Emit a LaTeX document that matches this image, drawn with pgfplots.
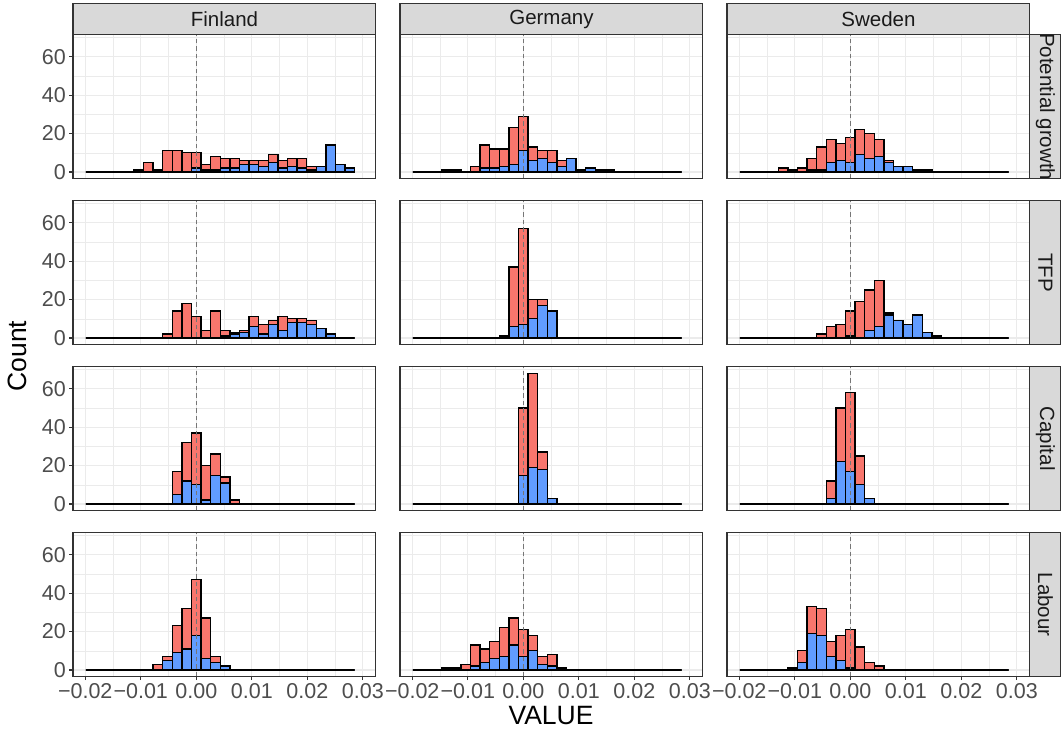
\documentclass[border=0pt]{standalone}
\usepackage{fontspec}
\setmainfont{Liberation Sans}
\usepackage{pgfplots}
\usepackage{pgfplotstable}
\pgfplotsset{compat=1.18}
\definecolor{redc}{HTML}{F8766D}
\definecolor{bluec}{HTML}{619CFF}
\definecolor{grey92}{HTML}{EBEBEB}
\definecolor{grey20}{HTML}{333333}
\definecolor{grey30}{HTML}{4D4D4D}
\definecolor{grey85}{HTML}{D9D9D9}
\definecolor{grey10}{HTML}{1A1A1A}
\definecolor{grey50}{HTML}{767676}

% columns: bin centre, then blue (b) and red (r) counts for Finland, Germany, Sweden
\pgfplotstableread{
x FIb FIr DEb DEr SEb SEr
-0.019008 0 0 0 0 0 0
-0.017280 0 0 0 0 0 0
-0.015552 0 0 0 0 0 0
-0.013824 0 0 0 1 0 0
-0.012096 0 0 0 1 0 2
-0.010368 0 1 0 0 0 1
-0.008640 0 5 0 3 0 2
-0.006912 0 1 2 12 1 6
-0.005184 0 11 2 10 1 12
-0.003456 0 11 3 9 5 12
-0.001728 0 10 4 19 6 9
0.000000 2 8 11 18 5 13
0.001728 1 3 6 7 9 13
0.003456 1 7 7 4 7 13
0.005184 2 5 5 6 8 9
0.006912 2 5 3 3 5 1
0.008640 4 2 7 0 3 0
0.010368 4 2 1 0 3 0
0.012096 3 3 2 0 1 0
0.013824 5 4 1 0 1 0
0.015552 2 4 1 0 0 0
0.017280 3 4 0 0 0 0
0.019008 2 5 0 0 0 0
0.020736 1 2 0 0 0 0
0.022464 3 0 0 0 0 0
0.024192 14 0 0 0 0 0
0.025920 4 0 0 0 0 0
0.027648 2 0 0 0 0 0
}\tblPG

\pgfplotstableread{
x FIb FIr DEb DEr SEb SEr
-0.019008 0 0 0 0 0 0
-0.017280 0 0 0 0 0 0
-0.015552 0 0 0 0 0 0
-0.013824 0 0 0 0 0 0
-0.012096 0 0 0 0 0 0
-0.010368 0 0 0 0 0 0
-0.008640 0 0 0 0 0 0
-0.006912 0 0 0 0 0 0
-0.005184 0 2 0 0 0 2
-0.003456 0 14 1 0 0 6
-0.001728 0 18 6 31 0 7
0.000000 0 11 7 50 1 13
0.001728 0 4 10 10 0 19
0.003456 0 14 17 3 4 21
0.005184 1 3 14 0 6 24
0.006912 2 1 0 0 12 1
0.008640 3 1 0 0 9 0
0.010368 6 5 0 0 7 0
0.012096 2 5 0 0 12 0
0.013824 7 2 0 0 3 0
0.015552 4 7 0 0 1 0
0.017280 8 2 0 0 0 0
0.019008 8 2 0 0 0 0
0.020736 7 2 0 0 0 0
0.022464 5 0 0 0 0 0
0.024192 2 0 0 0 0 0
0.025920 0 0 0 0 0 0
0.027648 0 0 0 0 0 0
}\tblTFP

\pgfplotstableread{
x FIb FIr DEb DEr SEb SEr
-0.019008 0 0 0 0 0 0
-0.017280 0 0 0 0 0 0
-0.015552 0 0 0 0 0 0
-0.013824 0 0 0 0 0 0
-0.012096 0 0 0 0 0 0
-0.010368 0 0 0 0 0 0
-0.008640 0 0 0 0 0 0
-0.006912 0 0 0 0 0 0
-0.005184 0 0 0 0 0 0
-0.003456 5 12 0 0 3 9
-0.001728 12 20 0 0 22 28
0.000000 10 27 15 35 17 41
0.001728 2 18 19 49 10 15
0.003456 15 11 18 9 3 0
0.005184 11 3 3 0 0 0
0.006912 0 2 0 0 0 0
0.008640 0 0 0 0 0 0
0.010368 0 0 0 0 0 0
0.012096 0 0 0 0 0 0
0.013824 0 0 0 0 0 0
0.015552 0 0 0 0 0 0
0.017280 0 0 0 0 0 0
0.019008 0 0 0 0 0 0
0.020736 0 0 0 0 0 0
0.022464 0 0 0 0 0 0
0.024192 0 0 0 0 0 0
0.025920 0 0 0 0 0 0
0.027648 0 0 0 0 0 0
}\tblCap

\pgfplotstableread{
x FIb FIr DEb DEr SEb SEr
-0.019008 0 0 0 0 0 0
-0.017280 0 0 0 0 0 0
-0.015552 0 0 0 0 0 0
-0.013824 0 0 0 1 0 0
-0.012096 0 0 0 1 0 0
-0.010368 0 0 0 3 1 0
-0.008640 0 0 2 11 4 6
-0.006912 0 3 4 7 19 14
-0.005184 5 2 6 9 18 14
-0.003456 9 14 7 15 7 8
-0.001728 11 21 13 14 5 13
0.000000 18 29 7 14 1 20
0.001728 6 21 10 8 0 12
0.003456 4 3 3 4 0 4
0.005184 2 0 2 6 0 2
0.006912 0 0 1 0 0 0
0.008640 0 0 0 0 0 0
0.010368 0 0 0 0 0 0
0.012096 0 0 0 0 0 0
0.013824 0 0 0 0 0 0
0.015552 0 0 0 0 0 0
0.017280 0 0 0 0 0 0
0.019008 0 0 0 0 0 0
0.020736 0 0 0 0 0 0
0.022464 0 0 0 0 0 0
0.024192 0 0 0 0 0 0
0.025920 0 0 0 0 0 0
0.027648 0 0 0 0 0 0
}\tblLab

\pgfplotsset{
  panel/.style={
    scale only axis, anchor=south west,
    width=302.9bp, height=143.6bp,
    xmin=-0.0222, xmax=0.03234, ymin=-3.4, ymax=71.4,
    scaled x ticks=false, scaled y ticks=false,
    xtick={-0.02,-0.01,0,0.01,0.02,0.03},
    minor xtick={-0.015,-0.005,0.005,0.015,0.025},
    ytick={0,20,40,60}, minor ytick={10,30,50,70},
    grid=both,
    major grid style={draw=grey92, line width=1.07bp},
    minor grid style={draw=grey92, line width=0.53bp},
    axis line style={draw=grey20, line width=1.07bp},
    tick align=outside, xtick pos=bottom, ytick pos=left,
    major tick length=3.7bp, minor tick length=0pt,
    tick style={draw=grey20, line width=1.07bp},
    xmajorticks=false, ymajorticks=false,
    xticklabels={}, yticklabels={},
    tick label style={font=\fontsize{21.5bp}{21.5bp}\selectfont, text=grey30},
  },
  leftcol/.style={ymajorticks=true, yticklabels={0,20,40,60}},
  bottomrow/.style={xmajorticks=true, xticklabels={−0.02,−0.01,0.00,0.01,0.02,0.03}},
}

\newcommand{\panel}[5]{%
\begin{axis}[panel, at={(#1bp,#2bp)}, #5]
\addplot[ybar, bar width=0.001728, bar shift=0pt, fill=redc, draw=black, line width=1.3bp]
  table[x=x, y expr=\thisrow{#4b}+\thisrow{#4r}] {#3};
\addplot[ybar, bar width=0.001728, bar shift=0pt, fill=bluec, draw=black, line width=1.3bp]
  table[x=x, y=#4b] {#3};
\addplot[grey50, line width=1.5bp, dash pattern=on 4.5bp off 3bp] coordinates {(0,-3.4) (0,71.4)};
\end{axis}}

\newcommand{\topstrip}[2]{%
\draw[fill=grey85, draw=grey20, line width=1.07bp] (#1bp,703.1bp) rectangle ++(302.9bp,31bp);
\node[text=grey10, font=\fontsize{20.5bp}{20.5bp}\selectfont] at ([xshift=151.45bp]#1bp,718.6bp) {#2};}

\newcommand{\sidestrip}[2]{%
\draw[fill=grey85, draw=grey20, line width=1.07bp] (1029.9bp,#1bp) rectangle ++(31bp,143.6bp);
\begin{scope}
\clip (1029.9bp,#1bp) rectangle ++(31bp,143.6bp);
\node[rotate=-90, text=grey10, font=\fontsize{20.5bp}{20.5bp}\selectfont] at ([yshift=71.8bp]1045.4bp,#1bp) {#2};
\end{scope}}

\begin{document}
\begin{tikzpicture}
\useasboundingbox (0,0) rectangle (1063bp,738bp);
% row 1: Potential growth
\panel{73}{559.5}{\tblPG}{FI}{leftcol}
\panel{400}{559.5}{\tblPG}{DE}{}
\panel{727}{559.5}{\tblPG}{SE}{}
% row 2: TFP
\panel{73}{393.5}{\tblTFP}{FI}{leftcol}
\panel{400}{393.5}{\tblTFP}{DE}{}
\panel{727}{393.5}{\tblTFP}{SE}{}
% row 3: Capital
\panel{73}{227.5}{\tblCap}{FI}{leftcol}
\panel{400}{227.5}{\tblCap}{DE}{}
\panel{727}{227.5}{\tblCap}{SE}{}
% row 4: Labour
\panel{73}{61.5}{\tblLab}{FI}{leftcol,bottomrow}
\panel{400}{61.5}{\tblLab}{DE}{bottomrow}
\panel{727}{61.5}{\tblLab}{SE}{bottomrow}

\topstrip{73}{Finland}
\topstrip{400}{Germany}
\topstrip{727}{Sweden}
\sidestrip{559.5}{Potential growth}
\sidestrip{393.5}{TFP}
\sidestrip{227.5}{Capital}
\sidestrip{61.5}{Labour}

\node[rotate=90, font=\fontsize{26.5bp}{26.5bp}\selectfont] at (17bp,382bp) {Count};
\node[font=\fontsize{26.5bp}{26.5bp}\selectfont] at (551bp,22bp) {VALUE};
\end{tikzpicture}
\end{document}
